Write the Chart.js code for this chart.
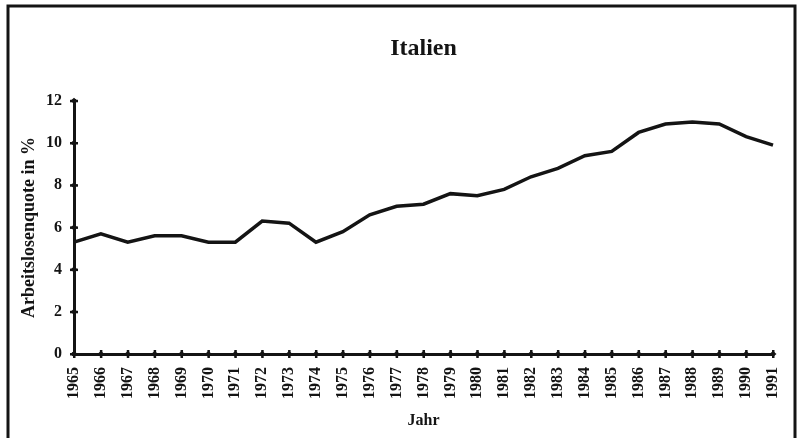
<!DOCTYPE html>
<html>
<head>
<meta charset="UTF-8">
<title>Italien</title>
<script src="https://cdn.jsdelivr.net/npm/chart.js@4.4.1/dist/chart.umd.min.js"></script>
<style>
  html, body { margin:0; padding:0; background:#fff; }
  #wrap { width:797px; height:438px; }
</style>
</head>
<body>
<div id="wrap"><canvas id="myChart" width="797" height="438"></canvas></div>

<script>
	// Jahre und Arbeitslosenquote
	var years = ["1965","1966","1967","1968","1969","1970","1971","1972","1973","1974",
		"1975","1976","1977","1978","1979","1980","1981","1982","1983","1984",
		"1985","1986","1987","1988","1989","1990","1991"];
	var quote = [5.3, 5.7, 5.3, 5.6, 5.6, 5.3, 5.3, 6.3, 6.2, 5.3,
		5.8, 6.6, 7.0, 7.1, 7.6, 7.5, 7.8, 8.4, 8.8, 9.4,
		9.6, 10.5, 10.9, 11.0, 10.9, 10.3, 9.9];
	var yTicks = [0, 2, 4, 6, 8, 10, 12];

	var ink = "#141414";
	var serif = "'Liberation Serif', 'Times New Roman', serif";

	// Rahmen um die Grafik und Rauten-Markierungen auf den Achsen
	var framePlugin = {
		id: "frame",
		beforeDraw: function(chart) {
			var c = chart.ctx;
			c.save();
			c.fillStyle = "#fff";
			c.fillRect(0, 0, chart.width, chart.height);
			c.strokeStyle = ink;
			c.lineWidth = 3;
			c.beginPath();
			c.moveTo(8, 438);
			c.lineTo(8, 6);
			c.lineTo(795, 6);
			c.lineTo(795, 438);
			c.stroke();
			c.restore();
		},
		afterDraw: function(chart) {
			var c = chart.ctx;
			var xs = chart.scales.x, ys = chart.scales.y;
			var x0 = chart.chartArea.left, y0 = chart.chartArea.bottom;
			c.save();
			c.fillStyle = ink;
			function diamond(x, y) {
				c.beginPath();
				c.moveTo(x - 3.5, y);
				c.lineTo(x, y - 3);
				c.lineTo(x + 3.5, y);
				c.lineTo(x, y + 3);
				c.closePath();
				c.fill();
			}
			for (var i = 0; i < years.length; i++) {
				var px = xs.getPixelForValue(i);
				c.fillRect(px - 1, y0 - 4, 2.5, 8);
				diamond(px, y0);
			}
			yTicks.forEach(function(v) {
				var py = ys.getPixelForValue(v);
				c.fillRect(x0 - 4, py - 1, 8, 2.5);
				diamond(x0, py);
			});
			c.restore();
		}
	};

	new Chart("myChart", {
	  type: "line",
	  data: {
	    labels: years,
	    datasets: [{
	      data: quote,
	      borderColor: ink,
	      borderWidth: 3.5,
	      pointRadius: 0,
	      tension: 0,
	      fill: false
	    }]
	  },
	  options: {
	    responsive: false,
	    animation: false,
	    layout: { padding: { left: 10, right: 24, top: 0, bottom: 0 } },
	    plugins: {
	      legend: { display: false },
	      tooltip: { enabled: false },
	      title: {
	        display: true,
	        fullSize: false,
	        text: "Italien",
	        color: ink,
	        font: { family: serif, size: 24, weight: "bold", lineHeight: 1.2 },
	        padding: { top: 34, bottom: 38 }
	      }
	    },
	    scales: {
	      x: {
	        offset: false,
	        afterFit: function(s) { s.height = 84; s.paddingLeft = 0; s.paddingRight = 0; },
	        grid: { display: true, drawOnChartArea: false, drawTicks: false },
	        border: { display: true, color: ink, width: 3 },
	        ticks: {
	          color: ink,
	          minRotation: 90,
	          maxRotation: 90,
	          autoSkip: false,
	          padding: 13,
	          font: { family: serif, size: 16, weight: "bold" }
	        },
	        title: {
	          display: true,
	          text: "Jahr",
	          color: ink,
	          font: { family: serif, size: 16, weight: "bold", lineHeight: 1.2 },
	          padding: { top: 0, bottom: 8 }
	        }
	      },
	      y: {
	        min: 0,
	        max: 12,
	        afterFit: function(s) { s.width = 64; },
	        afterBuildTicks: function(s) { s.ticks = yTicks.map(function(v) { return { value: v }; }); },
	        grid: { display: true, drawOnChartArea: false, drawTicks: false },
	        border: { display: true, color: ink, width: 3 },
	        ticks: {
	          color: ink,
	          padding: 12,
	          font: { family: serif, size: 16, weight: "bold" }
	        },
	        title: {
	          display: true,
	          text: "Arbeitslosenquote in %",
	          color: ink,
	          font: { family: serif, size: 18, weight: "bold", lineHeight: 1.2 },
	          padding: { top: 9, bottom: 0 }
	        }
	      }
	    }
	  },
	  plugins: [framePlugin]
	});
</script>
</body>
</html>
